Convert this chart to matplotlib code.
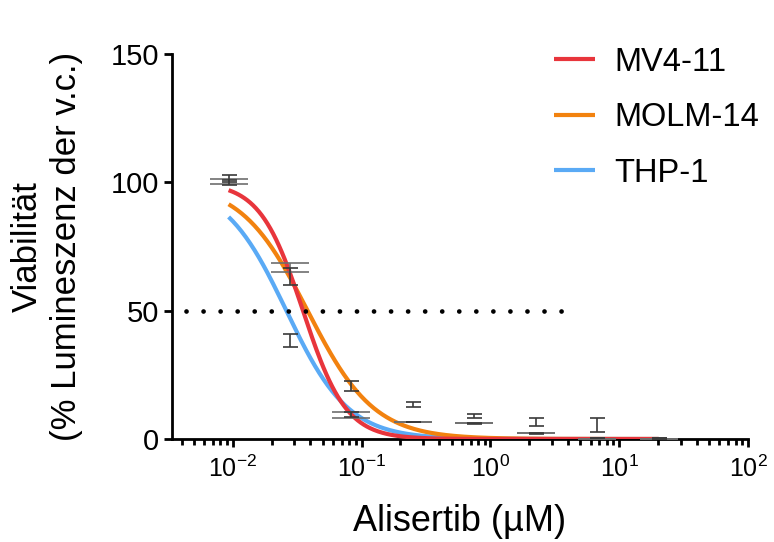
import numpy as np
import matplotlib
matplotlib.use("Agg")
import matplotlib.pyplot as plt
from matplotlib.ticker import LogLocator, NullFormatter, FixedLocator

plt.rcParams['font.family'] = ['Liberation Sans', 'DejaVu Sans']
plt.rcParams['mathtext.fontset'] = 'custom'
plt.rcParams['mathtext.rm'] = 'Liberation Sans'
plt.rcParams['mathtext.it'] = 'Liberation Sans'
plt.rcParams['mathtext.bf'] = 'Liberation Sans'

# ---- data ----
conc = [0.00926, 0.0278, 0.0833, 0.25, 0.75, 2.25, 6.75, 20.25]
series = ["MV4-11", "MOLM-14", "THP-1"]
colors = ["#E8353C", "#F2820F", "#5AAAF5"]

# 4PL fit parameters: top, bottom, IC50 (uM), hill slope
fit_top = [100.0, 100.0, 100.0]
fit_bottom = [0.0, 0.0, 0.0]
fit_ic50 = [0.035, 0.038, 0.026]
fit_hill = [2.6, 1.68, 1.8]

mv4_mean = [100.3, 66.8, 9.4, 6.6, 6.1, 2.2, 0.0, 0.0]
mv4_sd = [1.0, 1.75, 1.15, 0.05, 0.05, 0.05, 0.05, 0.05]
molm_mean = [101.5, 63.3, 20.7, 13.5, 8.9, 6.5, 5.4, 0.3]
molm_sd = [1.3, 3.3, 1.9, 0.9, 0.8, 1.6, 2.7, 0.2]
thp_mean = [100.0, 38.4, 9.5, 6.6, 6.0, 2.2, 0.3, 0.1]
thp_sd = [1.0, 2.5, 1.0, 0.1, 0.1, 0.1, 0.1, 0.1]

means = [mv4_mean, molm_mean, thp_mean]
sds = [mv4_sd, molm_sd, thp_sd]
capsizes = [13.7, 5.4, 5.4]
errcolors = ["#6E6E6E", "#3A3A3A", "#3A3A3A"]

ref_line_y = 50
ref_line_x = [0.0043, 4.4]

# ---- figure ----
fig = plt.figure(figsize=(7.74, 5.42), dpi=100)
ax = fig.add_axes([172/774, 1-439/542, (748-172)/774, (439-54)/542])

xs = np.logspace(np.log10(conc[0]), np.log10(conc[-1]), 300)
lines = []
for i in [2, 1, 0]:
    y = fit_bottom[i] + (fit_top[i]-fit_bottom[i]) / (1 + (xs/fit_ic50[i])**fit_hill[i])
    ln, = ax.plot(xs, y, color=colors[i], lw=3.0, solid_capstyle='butt',
                  zorder=3 + (2 - i) * 0.1, label=series[i])
    lines.append(ln)

for i in range(3):
    ax.errorbar(conc, means[i], yerr=sds[i], fmt='none', ecolor=errcolors[i],
                elinewidth=1.2, capsize=capsizes[i], capthick=1.2, zorder=5)

ax.plot(ref_line_x, [ref_line_y, ref_line_y], color='black', lw=3.4,
        linestyle=(0, (0.01, 3.6)), dash_capstyle='round', zorder=4)

ax.set_xscale('log')
ax.set_xlim(10**-2.473, 100)
ax.set_ylim(0, 150)
ax.set_yticks([0, 50, 100, 150])
ax.xaxis.set_major_locator(FixedLocator([1e-2, 1e-1, 1, 10, 100]))
ax.set_xticklabels([r'$\mathdefault{10^{-2}}$', r'$\mathdefault{10^{-1}}$',
                    r'$\mathdefault{10^{0}}$', r'$\mathdefault{10^{1}}$', r'$\mathdefault{10^{2}}$'])
ax.xaxis.set_minor_locator(LogLocator(base=10, subs=np.arange(2, 10), numticks=20))
ax.xaxis.set_minor_formatter(NullFormatter())

for s in ['top', 'right']:
    ax.spines[s].set_visible(False)
for s in ['left', 'bottom']:
    ax.spines[s].set_linewidth(2.0)
ax.spines['bottom'].set_zorder(2)

ax.tick_params(axis='both', which='major', length=6, width=2.0, direction='out', pad=4)
ax.tick_params(axis='y', labelsize=21, pad=3)
ax.tick_params(axis='x', labelsize=18, pad=6)
ax.tick_params(axis='x', which='minor', length=4, width=2.0, direction='out')

ax.set_xlabel("Alisertib (µM)", fontsize=26, labelpad=16)
ax.set_ylabel("Viabilität\n(% Lumineszenz der v.c.)", fontsize=25, labelpad=20, linespacing=1.25)

handles = [lines[2], lines[1], lines[0]]
leg = ax.legend(handles=handles, labels=series, loc='upper left',
                bbox_to_anchor=(531/774, 1-24/542), bbox_transform=fig.transFigure,
                frameon=False, fontsize=23.5, handlelength=1.25, handletextpad=0.6,
                labelspacing=0.75, borderpad=0.2)

fig.savefig("out.png", dpi=100)
